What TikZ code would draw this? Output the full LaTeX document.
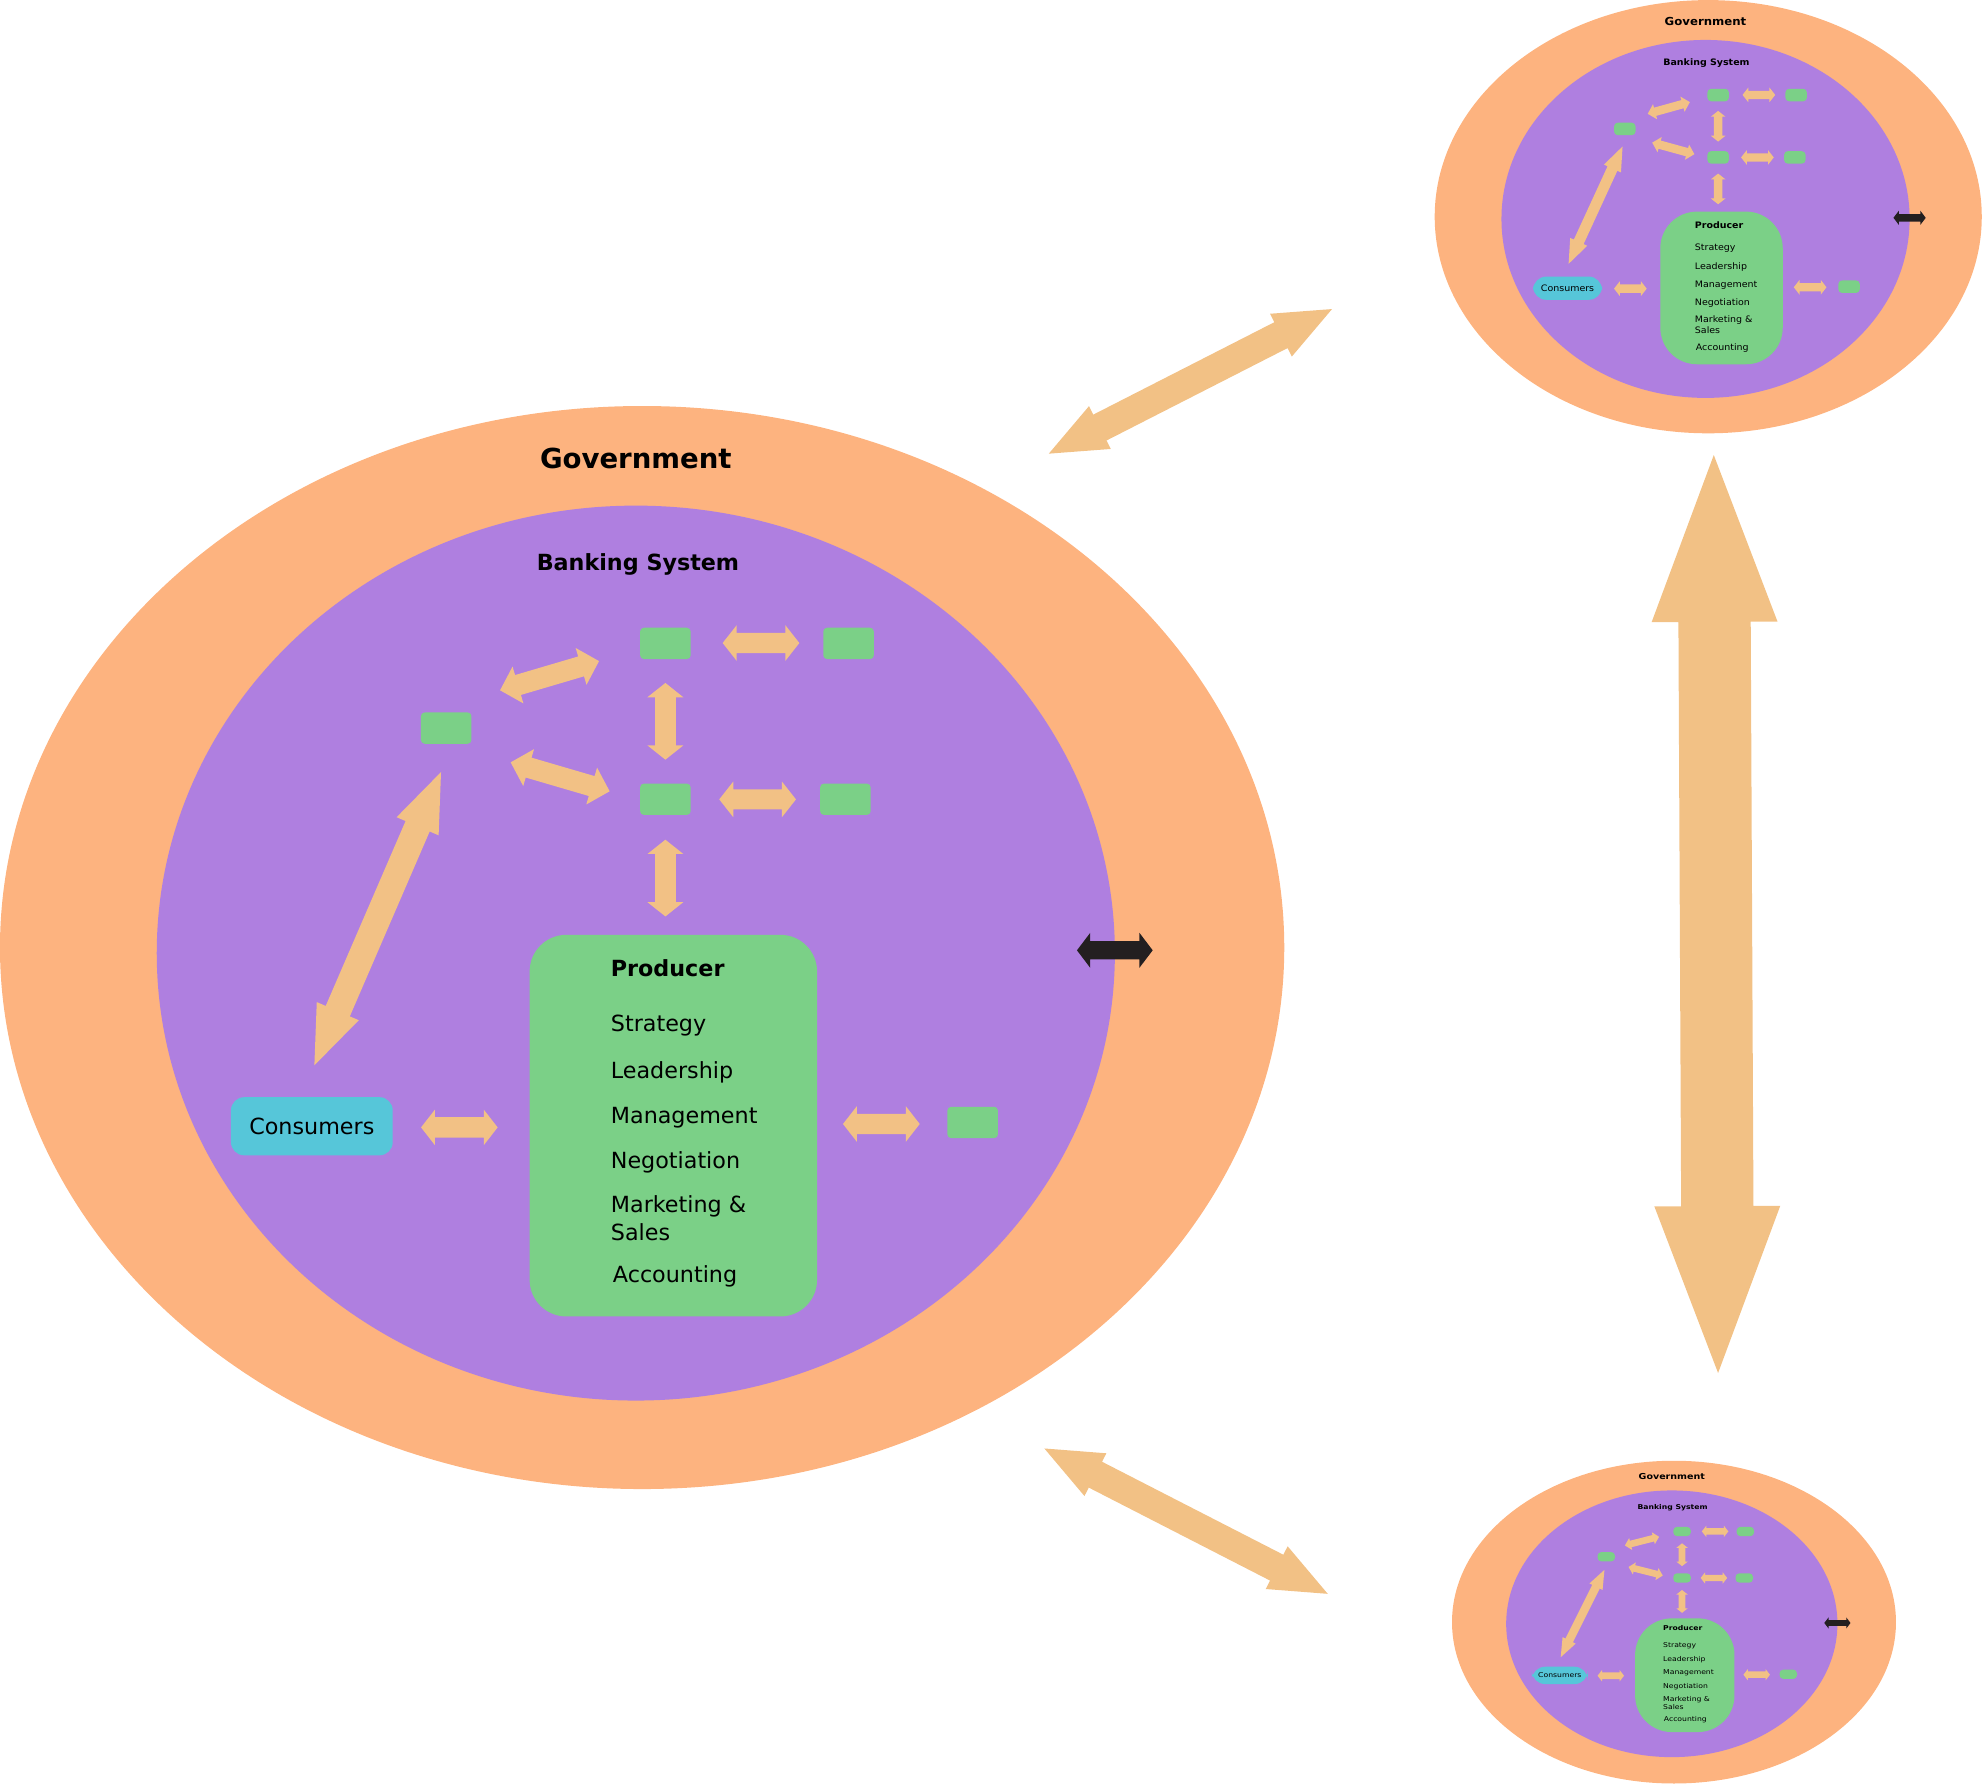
\documentclass[tikz,border=0pt]{standalone}
\usepackage{fontspec}
\setmainfont{DejaVu Sans}
\usetikzlibrary{calc,shapes.geometric}
\definecolor{govorange}{HTML}{FDB37F}
\definecolor{bankpurple}{HTML}{AF7FE0}
\definecolor{prodgreen}{HTML}{7BD087}
\definecolor{consblue}{HTML}{56C6D9}
\definecolor{arrowbeige}{HTML}{F2C185}
\definecolor{darkarrow}{HTML}{231F20}
\tikzset{
  govell/.style={ellipse, fill=govorange, minimum width=1016pt, minimum height=856.8pt, inner sep=0pt},
  bankell/.style={ellipse, fill=bankpurple, minimum width=758pt, minimum height=708pt, inner sep=0pt},
  bigtitle/.style={anchor=base, inner sep=0pt, font=\fontsize{21.8}{26}\selectfont\bfseries},
  subtitle/.style={anchor=base, inner sep=0pt, font=\fontsize{17.6}{21}\selectfont\bfseries},
  item/.style={anchor=base west, inner sep=0pt, font=\fontsize{17.6}{21}\selectfont},
  bankbox/.style={rectangle, rounded corners=3pt, fill=prodgreen, minimum width=40pt, minimum height=24.8pt, inner sep=0pt},
  prodbox/.style={rectangle, rounded corners=29pt, fill=prodgreen, minimum width=227.4pt, minimum height=301.9pt, inner sep=0pt},
  consbox/.style={rectangle, rounded corners=10.5pt, fill=consblue, minimum width=128pt, minimum height=46pt, inner sep=0pt, font=\fontsize{17.6}{21}\selectfont},
  barrow/.style={fill=arrowbeige},
  darrow/.style={fill=darkarrow},
}
% #1 style, #2 from, #3 to, #4 shaft half width, #5 head half width, #6 head length
\newcommand\blockarrow[6]{%
  \pgfmathsetlengthmacro\baH{\arrs*#4}%
  \pgfmathsetlengthmacro\baW{\arrs*#5}%
  \pgfmathsetlengthmacro\baL{\arrs*#6}%
  \begin{scope}[reset cm]
    \fill[#1] (#2)
      -- ($(#2)!\baL!(#3)!\baW!90:(#3)$)
      -- ($(#2)!\baL!(#3)!\baH!90:(#3)$)
      -- ($(#3)!\baL!(#2)!\baH!-90:(#2)$)
      -- ($(#3)!\baL!(#2)!\baW!-90:(#2)$)
      -- (#3)
      -- ($(#3)!\baL!(#2)!\baW!90:(#2)$)
      -- ($(#3)!\baL!(#2)!\baH!90:(#2)$)
      -- ($(#2)!\baL!(#3)!\baH!-90:(#3)$)
      -- ($(#2)!\baL!(#3)!\baW!-90:(#3)$)
      -- cycle;
  \end{scope}}
\newcommand\economy[1]{%
  \node[govell] (#1-gov) at (508,749.6) {};
  \node[bankell] (#1-bank) at (503,754) {};
  \node[bigtitle] (#1-govt) at (503,371) {Government};
  \node[subtitle] (#1-bankt) at (504.7,451) {Banking System};
  \node[bankbox] (#1-r1) at (526.4,509) {};
  \node[bankbox] (#1-r2) at (671.3,509) {};
  \node[bankbox] (#1-r3) at (353,576) {};
  \node[bankbox] (#1-r4) at (526.4,632.3) {};
  \node[bankbox] (#1-r5) at (668.8,632.3) {};
  \node[bankbox] (#1-r6) at (769.5,888) {};
  \node[prodbox] (#1-prod) at (532.7,890.5) {};
  \node[subtitle, anchor=base west] (#1-prodt) at (483.1,772.4) {Producer};
  \node[item] (#1-i1) at (483.1,815.9) {Strategy};
  \node[item] (#1-i2) at (483.1,853.6) {Leadership};
  \node[item] (#1-i3) at (483.1,889.2) {Management};
  \node[item] (#1-i4) at (483.1,924.6) {Negotiation};
  \node[item] (#1-i5) at (483.1,959.6) {Marketing \&};
  \node[item] (#1-i6) at (483.1,981.5) {Sales};
  \node[item] (#1-i7) at (484.7,1014.5) {Accounting};
  \node[consbox] (#1-cons) at (246.7,891) {Consumers};
  \coordinate (#1-a1s) at (395.6,546.1);
  \coordinate (#1-a1e) at (473.9,523);
  \coordinate (#1-a2s) at (571.7,508.7);
  \coordinate (#1-a2e) at (632.4,508.7);
  \coordinate (#1-a3s) at (526.4,540.3);
  \coordinate (#1-a3e) at (526.4,601);
  \coordinate (#1-a4s) at (404,603.1);
  \coordinate (#1-a4e) at (482.3,626);
  \coordinate (#1-a5s) at (569,632.4);
  \coordinate (#1-a5e) at (629.7,632.4);
  \coordinate (#1-a6s) at (526.4,664.3);
  \coordinate (#1-a6e) at (526.4,725);
  \coordinate (#1-a7s) at (348.9,610.8);
  \coordinate (#1-a7e) at (248.7,842.8);
  \coordinate (#1-a8s) at (333.1,891.9);
  \coordinate (#1-a8e) at (393.7,891.9);
  \coordinate (#1-a9s) at (666.9,889.2);
  \coordinate (#1-a9e) at (727.6,889.2);
  \coordinate (#1-ds) at (852,751.8);
  \coordinate (#1-de) at (911.9,751.8);
  \blockarrow{barrow}{#1-a1s}{#1-a1e}{8.2}{15.2}{14.8}
  \blockarrow{barrow}{#1-a2s}{#1-a2e}{8.0}{14.1}{11.1}
  \blockarrow{barrow}{#1-a3s}{#1-a3e}{8.2}{14.2}{11.3}
  \blockarrow{barrow}{#1-a4s}{#1-a4e}{8.2}{15.2}{14.8}
  \blockarrow{barrow}{#1-a5s}{#1-a5e}{8.0}{14.1}{11.1}
  \blockarrow{barrow}{#1-a6s}{#1-a6e}{8.2}{14.2}{11.3}
  \blockarrow{barrow}{#1-a7s}{#1-a7e}{10.4}{18.1}{46.7}
  \blockarrow{barrow}{#1-a8s}{#1-a8e}{8.1}{14.1}{11}
  \blockarrow{barrow}{#1-a9s}{#1-a9e}{8.1}{14.1}{11}
  \blockarrow{darrow}{#1-ds}{#1-de}{7.25}{13.85}{10.5}
}
\begin{document}
\begin{tikzpicture}[x=1pt, y=-1pt]
\useasboundingbox (0,0) rectangle (1568,1411);
\def\arrs{1}
\economy{m}
\begin{scope}[shift={(1135,-128.4)}, xscale=0.426, yscale=0.4, transform shape]
  \def\arrs{0.41}
  \economy{t}
\end{scope}
\begin{scope}[shift={(1148.7,1059.9)}, xscale=0.3457, yscale=0.298, transform shape]
  \def\arrs{0.32}
  \economy{b}
\end{scope}
\coordinate (c-t1) at (829.7,358.9);
\coordinate (c-t2) at (1053.8,244.5);
\coordinate (c-v1) at (1355.8,360);
\coordinate (c-v2) at (1359.2,1086.2);
\coordinate (c-b1) at (826.2,1145.9);
\coordinate (c-b2) at (1050.4,1260.9);
\blockarrow{barrow}{c-t1}{c-t2}{11.5}{19}{45.4}
\blockarrow{barrow}{c-v1}{c-v2}{28.6}{49.8}{132}
\blockarrow{barrow}{c-b1}{c-b2}{11.5}{19}{45.4}
\end{tikzpicture}
\end{document}
